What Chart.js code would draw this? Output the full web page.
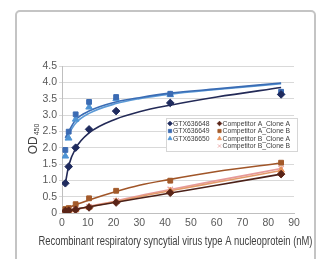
<!DOCTYPE html>
<html>
<head>
<meta charset="utf-8">
<script src="https://cdn.jsdelivr.net/npm/chart.js@4"></script>
<style>
  html, body { margin: 0; padding: 0; background: #fff; }
  #wrap { position: relative; width: 322px; height: 259px; overflow: hidden; }
  #frame {
    position: absolute; left: 15px; top: 10px; width: 297px; height: 270px;
    border: 2px solid #c4c4c4; border-radius: 5px;
  }
  canvas { position: absolute; left: 0; top: 0; }
</style>
</head>
<body>
<div id="wrap">
  <div id="frame"></div>
  <canvas id="chart" width="322" height="259"></canvas>
</div>
<script>
// concentrations (nM)
const conc = [1.3, 2.6, 5.3, 10.5, 21, 42, 85];
const gtx648 = [0.91, 1.42, 2.0, 2.56, 3.12, 3.37, 3.63];
const gtx649 = [1.93, 2.49, 3.02, 3.4, 3.55, 3.65, 3.71];
const gtx650 = [1.74, 2.29, 2.87, 3.24, 3.5, 3.62, 3.68];
const compAA = [0.06, 0.07, 0.1, 0.17, 0.32, 0.62, 1.19];
const compAB = [0.12, 0.15, 0.27, 0.45, 0.68, 0.99, 1.54];
const compBA = [0.03, 0.05, 0.1, 0.18, 0.35, 0.68, 1.31];
const compBB = [0.02, 0.04, 0.1, 0.19, 0.37, 0.72, 1.36];

// fitted trend lines
const fitX = [1.3, 2.6, 5.3, 10.5, 21, 30, 42, 60, 85];
const fit648 = [0.9, 1.45, 1.98, 2.45, 2.88, 3.1, 3.3, 3.55, 3.84];
const fit649 = [2.3, 2.5, 2.85, 3.12, 3.4, 3.53, 3.67, 3.8, 3.98];
const fit650 = [2.22, 2.42, 2.75, 3.05, 3.35, 3.5, 3.64, 3.78, 3.96];
const fitAA = [0.05, 0.08, 0.12, 0.19, 0.33, 0.45, 0.61, 0.85, 1.19];
const fitAB = [0.13, 0.17, 0.25, 0.4, 0.66, 0.85, 1.03, 1.27, 1.53];
const fitBA = [0.03, 0.06, 0.11, 0.19, 0.35, 0.5, 0.68, 0.94, 1.3];
const fitBB = [0.03, 0.06, 0.11, 0.2, 0.37, 0.53, 0.72, 0.99, 1.36];

const yTicks = [0, 0.5, 1, 1.5, 2, 2.5, 3, 3.5, 4, 4.5];
const xTicks = [0, 10, 20, 30, 40, 50, 60, 70, 80, 90];
const xTitle = "Recombinant respiratory syncytial virus type A nucleoprotein (nM)";

const series = [
  { label: "GTX636648", y: gtx648, fit: fit648, color: "#1f2b5e", line: "#232a57", style: "rectRot", r: 3.8 },
  { label: "GTX636649", y: gtx649, fit: fit649, color: "#3b6bb3", line: "#3a6cb4", style: "rect", r: 3.4 },
  { label: "GTX636650", y: gtx650, fit: fit650, color: "#4f94d4", line: "#5c9ad6", style: "triangle", r: 3.8 },
  { label: "Competitor A_Clone A", y: compAA, fit: fitAA, color: "#5a2417", line: "#4b2018", style: "rectRot", r: 3.8 },
  { label: "Competitor A_Clone B", y: compAB, fit: fitAB, color: "#a35a2a", line: "#a05528", style: "rect", r: 3.4 },
  { label: "Competitor B_Clone A", y: compBA, fit: fitBA, color: "#e8925a", line: "#e39a6a", style: "triangle", r: 3.8 },
  { label: "Competitor B_Clone B", y: compBB, fit: fitBB, color: "#e8a0a0", line: "#e69a9a", style: "crossRot", r: 3.8 },
];

const datasets = [];
series.forEach((s) => {
  datasets.push({
    label: s.label + " fit",
    data: fitX.map((x, i) => ({ x: x, y: s.fit[i] })),
    showLine: true,
    borderColor: s.line,
    borderWidth: 1.6,
    pointRadius: 0,
    cubicInterpolationMode: "monotone",
    order: 2,
  });
  datasets.push({
    label: s.label,
    data: conc.map((x, i) => ({ x: x, y: s.y[i] })),
    showLine: false,
    pointStyle: s.style,
    pointRadius: s.r,
    pointBackgroundColor: s.color,
    pointBorderColor: s.color,
    pointBorderWidth: s.style === "crossRot" ? 1.2 : 1,
    order: 1,
  });
});

// legend drawn inside the plot, plus the axis titles
const insideLegend = {
  id: "insideLegend",
  afterDraw(chart) {
    const ctx = chart.ctx;
    const left = 166, top = 118, w = 131, h = 33;
    ctx.save();
    ctx.fillStyle = "#fff";
    ctx.fillRect(left, top, w, h);
    ctx.strokeStyle = "#d6d6d6";
    ctx.lineWidth = 1;
    ctx.strokeRect(left + 0.5, top + 0.5, w, h);
    ctx.font = "6.8px 'Liberation Sans Narrow', 'Liberation Sans', sans-serif";
    ctx.textBaseline = "middle";
    series.forEach((s, i) => {
      const col = i < 3 ? 0 : 1;
      const row = i < 3 ? i : i - 3;
      const mx = col === 0 ? 170 : 219.5;
      const my = 123.5 + row * 7.5;
      ctx.fillStyle = s.color;
      ctx.strokeStyle = s.color;
      ctx.lineWidth = 0.8;
      Chart.helpers.drawPoint(ctx, { pointStyle: s.style, radius: 2.3, rotation: 0, borderWidth: 0.8 }, mx, my);
      ctx.fillStyle = "#404040";
      ctx.fillText(s.label, mx + 3, my + 0.5);
    });

    // x axis title, squeezed to the reference width
    ctx.font = "12px 'Liberation Sans', sans-serif";
    ctx.textBaseline = "middle";
    ctx.textAlign = "center";
    const tw = ctx.measureText(xTitle).width;
    ctx.save();
    ctx.translate(175.5, 242);
    ctx.scale(274 / tw, 1);
    ctx.fillText(xTitle, 0, 0);
    ctx.restore();

    // y axis title OD450
    ctx.textAlign = "left";
    ctx.translate(33, 139);
    ctx.rotate(-Math.PI / 2);
    ctx.textBaseline = "alphabetic";
    ctx.font = "12px 'Liberation Sans', sans-serif";
    const odW = ctx.measureText("OD").width;
    ctx.font = "7px 'Liberation Sans', sans-serif";
    const subW = ctx.measureText("450").width;
    const start = -(odW + subW + 1) / 2;
    ctx.font = "12px 'Liberation Sans', sans-serif";
    ctx.fillText("OD", start, 4);
    ctx.font = "7px 'Liberation Sans', sans-serif";
    ctx.fillText("450", start + odW + 1, 6);
    ctx.restore();
  },
};

new Chart(document.getElementById("chart"), {
  type: "scatter",
  data: { datasets: datasets },
  plugins: [insideLegend],
  options: {
    responsive: false,
    animation: false,
    layout: { padding: { left: 30, right: 28, top: 66, bottom: 0 } },
    plugins: { legend: { display: false }, tooltip: { enabled: false } },
    scales: {
      x: {
        type: "linear",
        min: 0,
        max: 90,
        afterBuildTicks: (axis) => { axis.ticks = xTicks.map((v) => ({ value: v })); },
        afterFit: (axis) => { axis.height = 46; },
        grid: { display: false, drawTicks: true, tickLength: 3 },
        border: { color: "#bfbfbf" },
        ticks: { color: "#595959", font: { family: "'Liberation Sans'", size: 10.5 }, padding: 1, maxRotation: 0 },
        title: { display: false },
      },
      y: {
        type: "linear",
        min: 0,
        max: 4.5,
        afterBuildTicks: (axis) => { axis.ticks = yTicks.map((v) => ({ value: v })); },
        afterFit: (axis) => { axis.width = 32; },
        grid: { color: "#d9d9d9", tickLength: 3, drawTicks: true },
        border: { color: "#bfbfbf" },
        ticks: { color: "#595959", font: { family: "'Liberation Sans'", size: 10.5 }, padding: 2 },
      },
    },
  },
});
</script>
</body>
</html>
